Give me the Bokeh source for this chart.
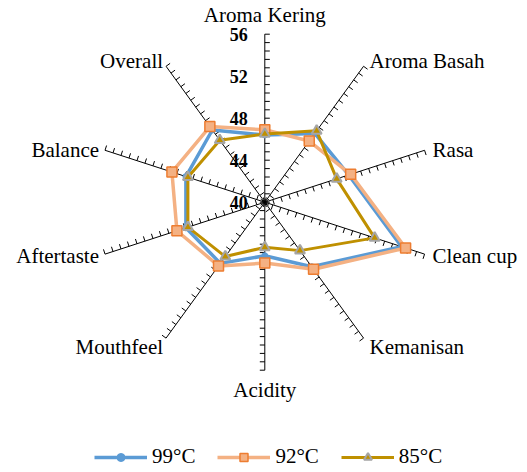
import numpy as np
from bokeh.plotting import figure
from bokeh.models import ColumnDataSource, Range1d, Legend, LegendItem
from bokeh.embed import file_html
from bokeh.resources import INLINE
from bokeh.core.properties import value

# ---------------- data ----------------
categories = ["Aroma Kering", "Aroma Basah", "Rasa", "Clean cup", "Kemanisan",
              "Acidity", "Mouthfeel", "Aftertaste", "Balance", "Overall"]
s99 = [46.4, 48.1, 48.4, 53.7, 47.6, 45.1, 47.2, 47.9, 47.9, 48.5]
s92 = [46.9, 47.2, 48.6, 54.1, 47.9, 45.8, 47.5, 48.8, 49.3, 48.9]
s85 = [46.5, 48.4, 47.2, 51.0, 45.7, 44.3, 46.4, 47.7, 47.7, 47.3]
series_names = ["99°C", "92°C", "85°C"]
r_min, r_max = 40, 56
tick_values = [40, 44, 48, 52, 56]
tick_labels = ["40", "44", "48", "52", "56"]
minor_step = 0.8

# ---------------- geometry ----------------
W, H = 527, 472
ppu = 10.5            # pixels per value unit
cx, cy = 264.3, 201.7  # centre in screen px
n = len(categories)
ang = np.pi / 2 - np.arange(n) * 2 * np.pi / n

def xy(vals):
    r = np.asarray(vals, dtype=float) - r_min
    return r * np.cos(ang), r * np.sin(ang)

p = figure(width=W, height=H, output_backend="svg", toolbar_location=None,
           x_range=Range1d(-cx / ppu, (W - cx) / ppu),
           y_range=Range1d(-(H - cy) / ppu, cy / ppu),
           x_axis_location=None, y_axis_location=None, min_border=0)
p.grid.visible = False
p.outline_line_color = None
p.background_fill_color = "white"

R = r_max - r_min
# axis spokes
ex, ey = R * np.cos(ang), R * np.sin(ang)
p.segment(x0=np.zeros(n), y0=np.zeros(n), x1=ex, y1=ey, line_color="black", line_width=1)

# minor tick marks on each spoke
tl = 5 / ppu
rs = np.arange(0, R + 1e-9, minor_step)
tx0, ty0, tx1, ty1 = [], [], [], []
for a in ang:
    pa = a - np.pi / 2
    for r in rs:
        x0, y0 = r * np.cos(a), r * np.sin(a)
        tx0.append(x0); ty0.append(y0)
        tx1.append(x0 + tl * np.cos(pa)); ty1.append(y0 + tl * np.sin(pa))
p.segment(x0=tx0, y0=ty0, x1=tx1, y1=ty1, line_color="black", line_width=1)

# value tick labels on the top spoke
p.text(x=[0] * len(tick_values), y=[v - r_min for v in tick_values], text=tick_labels,
       x_offset=-17, text_align="right", text_baseline="middle",
       text_font=value("Liberation Serif"), text_font_size="18px",
       text_font_style="bold", text_color="black")

# category labels
lab_align = ["center", "left", "left", "left", "left", "center", "right", "right", "right", "right"]
lab_dx = [0, 6, 8, 8, 6, 0, -3, -6, -6, -3]
lab_dy = [-19, -5, 0, 2, 9, 20, 9, 2, 0, -5]
lsrc = ColumnDataSource(dict(x=ex, y=ey, t=categories, a=lab_align, dx=lab_dx, dy=lab_dy))
p.text(x="x", y="y", text="t", text_align="a", x_offset="dx", y_offset="dy",
       text_baseline="middle", source=lsrc, text_font=value("Liberation Serif"),
       text_font_size="21px", text_color="black")

# series
def closed(vals):
    x, y = xy(vals)
    return np.append(x, x[0]), np.append(y, y[0]), x, y

lx, ly, mx, my = closed(s99)
l99 = p.line(lx, ly, line_color="#5B9BD5", line_width=3.5, line_join="round")
m99 = p.scatter(mx, my, marker="circle", size=6, fill_color="#5B9BD5", line_color="#5B9BD5")

lx, ly, mx, my = closed(s92)
l92 = p.line(lx, ly, line_color="#F4B183", line_width=3.5, line_join="round")
m92 = p.scatter(mx, my, marker="square", size=10, fill_color="#F4B183",
                line_color="#ED7D31", line_width=1.5)

lx, ly, mx, my = closed(s85)
l85 = p.line(lx, ly, line_color="#BF9000", line_width=3, line_join="round")
m85 = p.scatter(mx, my, marker="triangle", size=10, fill_color="#BF9000",
                line_color="#A5A5A5", line_width=2)

legend = Legend(items=[LegendItem(label=series_names[0], renderers=[l99, m99]),
                       LegendItem(label=series_names[1], renderers=[l92, m92]),
                       LegendItem(label=series_names[2], renderers=[l85, m85])],
                orientation="horizontal", location=(94, 3),
                glyph_width=53, glyph_height=20, label_height=20, label_standoff=5,
                spacing=22, padding=0, margin=0, border_line_color=None,
                background_fill_alpha=0, label_text_font="Liberation Serif",
                label_text_font_size="21px", label_text_color="black")
p.add_layout(legend)

open("out.html", "w").write(file_html(p, INLINE))
